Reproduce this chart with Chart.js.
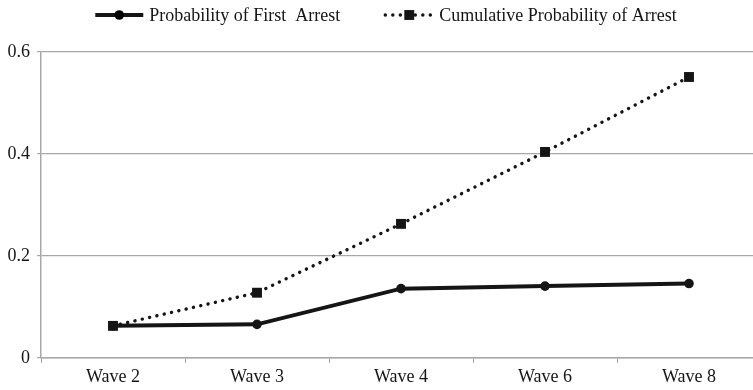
<!DOCTYPE html>
<html>
<head>
<meta charset="utf-8">
<script src="https://cdn.jsdelivr.net/npm/chart.js@4/dist/chart.umd.min.js"></script>
<style>
  html, body { margin: 0; padding: 0; background: #fff; overflow: hidden; }
  /* the original plot runs a few pixels past the right edge of the picture */
  #wrap { width: 753px; height: 390px; overflow: hidden; }
  canvas { display: block; }
</style>
</head>
<body>
<div id="wrap"><canvas id="chart" width="761" height="390"></canvas></div>
<script>
// chart data
const waves = ['Wave 2', 'Wave 3', 'Wave 4', 'Wave 6', 'Wave 8'];
const firstArrest = [0.063, 0.066, 0.136, 0.141, 0.146];
const cumulativeArrest = [0.063, 0.128, 0.263, 0.404, 0.551];
const yTicks = [0, 0.2, 0.4, 0.6];

const FONT = '"Liberation Serif", "Times New Roman", serif';
const INK = '#151515';
const GRID = '#a8a8a8';

// legend drawn by hand: line sample + marker, like the original
const lineLegend = {
    id: 'lineLegend',
    afterDraw(chart) {
        const ctx = chart.ctx;
        const y = 15;
        const sample = 48, gapText = 6, gapItem = 45;
        ctx.save();
        ctx.font = '18px ' + FONT;
        const items = chart.data.datasets.map(ds => ({ ds, w: sample + gapText + ctx.measureText(ds.label).width }));
        const total = items.reduce((s, it) => s + it.w, 0) + gapItem * (items.length - 1);
        let x = 386 - total / 2;
        items.forEach(({ ds }, i) => {
            ctx.strokeStyle = ds.borderColor;
            ctx.lineWidth = ds.borderWidth;
            ctx.lineCap = ds.borderCapStyle || 'butt';
            ctx.setLineDash(ds.borderDash || []);
            ctx.beginPath();
            ctx.moveTo(x, y);
            ctx.lineTo(x + sample, y);
            ctx.stroke();
            ctx.setLineDash([]);
            Chart.helpers.drawPoint(ctx, {
                pointStyle: ds.pointStyle,
                radius: ds.pointRadius,
                borderWidth: 0
            }, x + sample / 2, y);
            ctx.fillStyle = INK;
            ctx.textBaseline = 'middle';
            ctx.textAlign = 'left';
            ctx.fillText(ds.label, x + sample + gapText, y + 1);
            x += items[i].w + gapItem;
        });
        ctx.restore();
    }
};

new Chart(document.getElementById('chart'), {
    type: 'line',
    data: {
        labels: waves,
        datasets: [
            {
                label: 'Probability of First  Arrest',
                data: firstArrest,
                borderColor: INK,
                backgroundColor: INK,
                borderWidth: 4,
                pointStyle: 'circle',
                pointRadius: 4.8,
                pointBorderWidth: 0,
                pointBackgroundColor: INK,
                tension: 0
            },
            {
                label: 'Cumulative Probability of Arrest',
                data: cumulativeArrest,
                borderColor: INK,
                backgroundColor: INK,
                borderWidth: 3.4,
                borderDash: [0.1, 7.4],
                borderCapStyle: 'round',
                pointStyle: 'rect',
                pointRadius: 7,
                pointBorderWidth: 0,
                pointBackgroundColor: INK,
                tension: 0
            }
        ]
    },
    options: {
        responsive: false,
        animation: false,
        events: [],
        layout: { autoPadding: false, padding: { top: 52, right: 0, left: 0, bottom: 0 } },
        plugins: {
            legend: { display: false },
            tooltip: { enabled: false }
        },
        scales: {
            x: {
                offset: true,
                grid: {
                    offset: true,
                    drawOnChartArea: false,
                    color: GRID,
                    tickLength: 5
                },
                border: { color: GRID, width: 1.5 },
                ticks: {
                    color: INK,
                    padding: 3,
                    maxRotation: 0,
                    font: { family: FONT, size: 18 }
                },
                afterFit(scale) {
                    scale.height = 32;
                    scale.paddingLeft = 0;
                    scale.paddingRight = 0;
                }
            },
            y: {
                min: 0,
                max: 0.6,
                afterBuildTicks(scale) { scale.ticks = yTicks.map(v => ({ value: v })); },
                grid: {
                    color: GRID,
                    lineWidth: 1.2,
                    tickLength: 4
                },
                border: { color: GRID, width: 1.5 },
                ticks: {
                    color: INK,
                    padding: 7,
                    font: { family: FONT, size: 18 },
                    callback: v => String(v)
                },
                afterFit(scale) { scale.width = 41; }
            }
        }
    },
    plugins: [lineLegend]
});
</script>
</body>
</html>
